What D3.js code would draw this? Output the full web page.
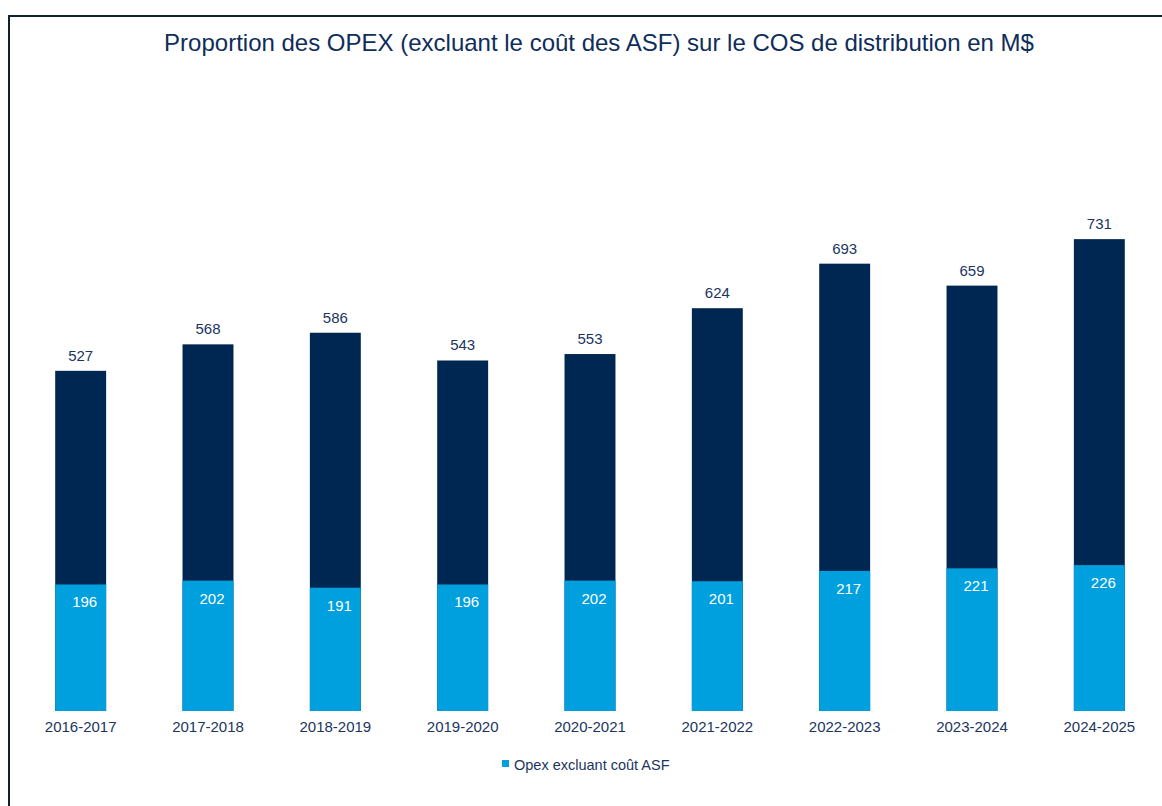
<!DOCTYPE html>
<html>
<head>
<meta charset="utf-8">
<script src="https://cdn.jsdelivr.net/npm/d3@7"></script>
<style>
  body { margin: 0; background: #fff; }
  svg { display: block; font-family: "Liberation Sans", Arial, sans-serif; }
</style>
</head>
<body>
<svg id="chart" width="1162" height="806"></svg>
<script>
const years = ["2016-2017","2017-2018","2018-2019","2019-2020","2020-2021","2021-2022","2022-2023","2023-2024","2024-2025"];
const totals = [527, 568, 586, 543, 553, 624, 693, 659, 731];
const opex = [196, 202, 191, 196, 202, 201, 217, 221, 226];

const width = 1162, height = 806;
const navy = "#002652", light = "#00a0df", textColor = "#1b3560";

let svg = d3.select("#chart");

// frame
svg.append("path")
   .attr("d", "M9,806 V16 H1162")
   .attr("fill", "none")
   .attr("stroke", "#102030")
   .attr("stroke-width", 2);

svg.append("text")
   .attr("x", 599)
   .attr("y", 51)
   .attr("text-anchor", "middle")
   .attr("font-size", "24px")
   .attr("fill", "#0f2d5a")
   .text("Proportion des OPEX (excluant le coût des ASF) sur le COS de distribution en M$");

let x = d3.scaleBand()
          .domain(years)
          .range([17, 1163])
          .paddingInner(0.6)
          .paddingOuter(0.3);

let y = d3.scaleLinear()
          .domain([0, 800])
          .range([711, 711 - 800 * 0.6455]);

let data = years.map((d, i) => ({year: d, total: totals[i], opex: opex[i]}));

let bars = svg.append("g");

bars.selectAll("rect.total")
    .data(data)
    .enter()
    .append("rect")
    .attr("class", "total")
    .attr("x", d => x(d.year))
    .attr("width", x.bandwidth())
    .attr("y", d => y(d.total))
    .attr("height", d => y(0) - y(d.total))
    .attr("fill", navy);

bars.selectAll("rect.opex")
    .data(data)
    .enter()
    .append("rect")
    .attr("class", "opex")
    .attr("x", d => x(d.year))
    .attr("width", x.bandwidth())
    .attr("y", d => y(d.opex))
    .attr("height", d => y(0) - y(d.opex))
    .attr("fill", light);

// labels
bars.selectAll("text.tot")
    .data(data)
    .enter()
    .append("text")
    .attr("class", "tot")
    .attr("x", d => x(d.year) + x.bandwidth() / 2)
    .attr("y", d => y(d.total) - 10)
    .attr("text-anchor", "middle")
    .attr("font-size", "15px")
    .attr("fill", textColor)
    .text(d => d.total);

bars.selectAll("text.op")
    .data(data)
    .enter()
    .append("text")
    .attr("class", "op")
    .attr("x", d => x(d.year) + x.bandwidth() / 2 + 4)
    .attr("y", d => y(d.opex) + 23)
    .attr("text-anchor", "middle")
    .attr("font-size", "15px")
    .attr("fill", "#fff")
    .text(d => d.opex);

// x axis
let xAxis = svg.append("g")
    .attr("transform", "translate(0," + y(0) + ")")
    .call(d3.axisBottom(x).tickSize(0).tickPadding(10));
xAxis.select(".domain").remove();
xAxis.selectAll("text")
     .attr("font-size", "15px")
     .attr("font-family", "Liberation Sans, Arial, sans-serif")
     .attr("fill", textColor);

// legend
let legend = svg.append("g").attr("transform", "translate(502,760)");
legend.append("rect")
      .attr("width", 7)
      .attr("height", 7)
      .attr("fill", light);
legend.append("text")
      .attr("x", 12)
      .attr("y", 10)
      .attr("font-size", "14.5px")
      .attr("fill", textColor)
      .text("Opex excluant coût ASF");
</script>
</body>
</html>
